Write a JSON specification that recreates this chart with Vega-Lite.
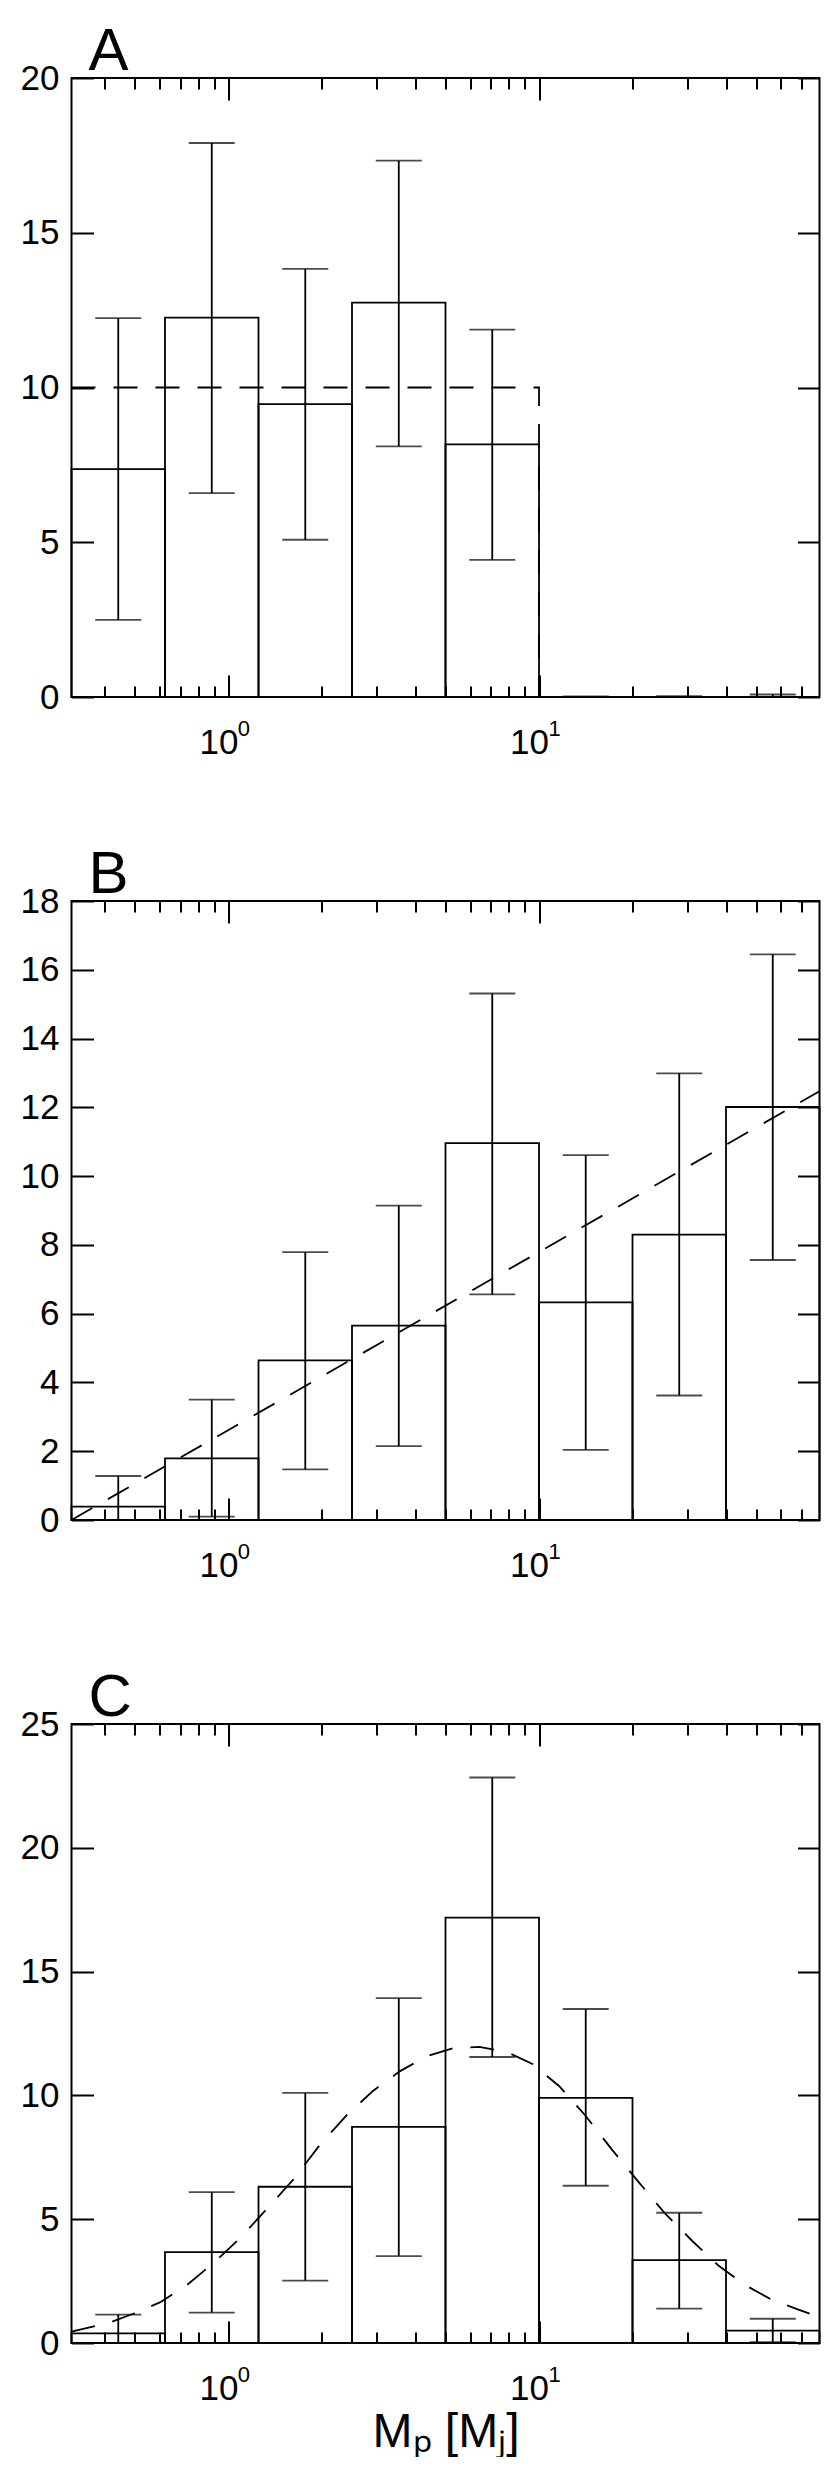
{
  "$schema": "https://vega.github.io/schema/vega-lite/v6.json",
  "background": "white",
  "padding": {"left": 18.5, "top": 20, "right": 5, "bottom": 0},
  "spacing": 82,
  "datasets": {
    "binsA": [
      {"lo": 0.3125, "hi": 0.625, "c": 0.442, "v": 7.36, "elo": 2.49, "ehi": 12.24},
      {"lo": 0.625, "hi": 1.25, "c": 0.884, "v": 12.26, "elo": 6.59, "ehi": 17.9},
      {"lo": 1.25, "hi": 2.5, "c": 1.768, "v": 9.46, "elo": 5.08, "ehi": 13.83},
      {"lo": 2.5, "hi": 5, "c": 3.536, "v": 12.74, "elo": 8.1, "ehi": 17.33},
      {"lo": 5, "hi": 10, "c": 7.071, "v": 8.16, "elo": 4.43, "ehi": 11.87},
      {"lo": 10, "hi": 20, "c": 14.14, "v": 0, "elo": 0, "ehi": 0.02},
      {"lo": 20, "hi": 40, "c": 28.28, "v": 0, "elo": 0, "ehi": 0.03},
      {"lo": 40, "hi": 80, "c": 56.57, "v": 0, "elo": 0, "ehi": 0.08}
    ],
    "binsB": [
      {"lo": 0.3125, "hi": 0.625, "c": 0.442, "v": 0.39, "elo": 0, "ehi": 1.28},
      {"lo": 0.625, "hi": 1.25, "c": 0.884, "v": 1.79, "elo": 0.1, "ehi": 3.5},
      {"lo": 1.25, "hi": 2.5, "c": 1.768, "v": 4.64, "elo": 1.47, "ehi": 7.79},
      {"lo": 2.5, "hi": 5, "c": 3.536, "v": 5.65, "elo": 2.15, "ehi": 9.14},
      {"lo": 5, "hi": 10, "c": 7.071, "v": 10.96, "elo": 6.56, "ehi": 15.31},
      {"lo": 10, "hi": 20, "c": 14.14, "v": 6.33, "elo": 2.04, "ehi": 10.61},
      {"lo": 20, "hi": 40, "c": 28.28, "v": 8.3, "elo": 3.62, "ehi": 12.99},
      {"lo": 40, "hi": 80, "c": 56.57, "v": 12.01, "elo": 7.56, "ehi": 16.45}
    ],
    "binsC": [
      {"lo": 0.3125, "hi": 0.625, "c": 0.442, "v": 0.39, "elo": 0, "ehi": 1.15},
      {"lo": 0.625, "hi": 1.25, "c": 0.884, "v": 3.67, "elo": 1.23, "ehi": 6.09},
      {"lo": 1.25, "hi": 2.5, "c": 1.768, "v": 6.31, "elo": 2.52, "ehi": 10.1},
      {"lo": 2.5, "hi": 5, "c": 3.536, "v": 8.73, "elo": 3.51, "ehi": 13.93},
      {"lo": 5, "hi": 10, "c": 7.071, "v": 17.18, "elo": 11.55, "ehi": 22.84},
      {"lo": 10, "hi": 20, "c": 14.14, "v": 9.9, "elo": 6.35, "ehi": 13.49},
      {"lo": 20, "hi": 40, "c": 28.28, "v": 3.35, "elo": 1.39, "ehi": 5.26},
      {"lo": 40, "hi": 80, "c": 56.57, "v": 0.5, "elo": 0.03, "ehi": 0.98}
    ],
    "modelA": [
      {"i": 0, "x": 0.3125, "y": 10},
      {"i": 1, "x": 10, "y": 10},
      {"i": 2, "x": 10, "y": 0},
      {"i": 3, "x": 80, "y": 0}
    ],
    "modelB": [
      {"i": 0, "x": 0.3125, "y": 0},
      {"i": 1, "x": 80, "y": 12.47}
    ],
    "modelC": [
      {"i": 0, "x": 0.3125, "y": 0.46},
      {"i": 1, "x": 0.407, "y": 0.79},
      {"i": 2, "x": 0.496, "y": 1.19},
      {"i": 3, "x": 0.604, "y": 1.65},
      {"i": 4, "x": 0.735, "y": 2.34},
      {"i": 5, "x": 0.895, "y": 3.23},
      {"i": 6, "x": 1.09, "y": 4.23},
      {"i": 7, "x": 1.33, "y": 5.42},
      {"i": 8, "x": 1.62, "y": 6.61},
      {"i": 9, "x": 1.97, "y": 8.0},
      {"i": 10, "x": 2.4, "y": 9.19},
      {"i": 11, "x": 2.92, "y": 10.18},
      {"i": 12, "x": 3.56, "y": 10.97},
      {"i": 13, "x": 4.33, "y": 11.57},
      {"i": 14, "x": 5.27, "y": 11.9},
      {"i": 15, "x": 6.42, "y": 11.96},
      {"i": 16, "x": 7.82, "y": 11.77},
      {"i": 17, "x": 9.53, "y": 11.27},
      {"i": 18, "x": 11.6, "y": 10.38},
      {"i": 19, "x": 14.1, "y": 9.19},
      {"i": 20, "x": 17.2, "y": 7.8},
      {"i": 21, "x": 20.9, "y": 6.51},
      {"i": 22, "x": 25.5, "y": 5.22},
      {"i": 23, "x": 31.1, "y": 4.13},
      {"i": 24, "x": 37.8, "y": 3.13},
      {"i": 25, "x": 46.1, "y": 2.34},
      {"i": 26, "x": 56.1, "y": 1.75},
      {"i": 27, "x": 68.4, "y": 1.35},
      {"i": 28, "x": 80, "y": 1.05}
    ]
  },
  "vconcat": [
    {
      "width": 748, "height": 619,
      "title": {"text": "A"},
      "resolve": {"axis": {"x": "independent", "y": "independent"}},
      "layer": [
        {
          "data": {"name": "binsA"},
          "mark": {"type": "rect", "filled": false, "stroke": "black", "strokeWidth": 1.8},
          "encoding": {
            "x": {"field": "lo", "type": "quantitative", "scale": {"type": "log", "domain": [0.3125, 80], "nice": false},
                  "axis": {"orient": "bottom", "values": [1, 10], "tickSize": -22, "labelPadding": 50, "labelExpr": "'10'", "labelOffset": -10, "title": null}},
            "x2": {"field": "hi"},
            "y": {"field": "v", "type": "quantitative", "scale": {"domain": [0, 20], "nice": false},
                  "axis": {"orient": "left", "values": [0, 5, 10, 15, 20], "tickSize": -22, "labelPadding": 34.5, "title": null}},
            "y2": {"datum": 0}
          }
        },
        {
          "data": {"name": "binsA"},
          "mark": {"type": "rule", "color": "black", "strokeWidth": 1.8},
          "encoding": {
            "x": {"field": "c", "type": "quantitative", "axis": {"orient": "bottom", "values": [0.4,0.5,0.6,0.7,0.8,0.9,2,3,4,5,6,7,8,9,20,30,40,50,60,70], "tickSize": -11, "labels": false, "title": null}},
            "y": {"field": "elo", "type": "quantitative", "axis": {"orient": "right", "values": [0, 5, 10, 15, 20], "tickSize": -22, "labels": false, "title": null}},
            "y2": {"field": "ehi"}
          }
        },
        {
          "data": {"name": "binsA"},
          "mark": {"type": "tick", "orient": "horizontal", "color": "black", "thickness": 1.8},
          "encoding": {
            "x": {"field": "c", "type": "quantitative", "axis": {"orient": "top", "values": [1, 10], "tickSize": -22, "labels": false, "title": null}},
            "y": {"field": "elo", "type": "quantitative", "axis": null},
            "size": {"value": 46}
          }
        },
        {
          "data": {"name": "binsA"},
          "mark": {"type": "tick", "orient": "horizontal", "color": "black", "thickness": 1.8},
          "encoding": {
            "x": {"field": "c", "type": "quantitative", "axis": {"orient": "top", "values": [0.4,0.5,0.6,0.7,0.8,0.9,2,3,4,5,6,7,8,9,20,30,40,50,60,70], "tickSize": -11, "labels": false, "title": null}},
            "y": {"field": "ehi", "type": "quantitative", "axis": null},
            "size": {"value": 46}
          }
        },
        {
          "data": {"name": "modelA"},
          "mark": {"type": "line", "color": "black", "strokeWidth": 1.8, "strokeDash": [24, 18]},
          "encoding": {
            "x": {"field": "x", "type": "quantitative", "axis": {"orient": "bottom", "values": [1, 10], "ticks": false, "labelExpr": "datum.value == 1 ? '0' : '1'", "labelFontSize": 22, "labelPadding": 21, "labelOffset": 15, "title": null}},
            "y": {"field": "y", "type": "quantitative", "axis": null},
            "order": {"field": "i"}
          }
        }
      ]
    },
    {
      "width": 748, "height": 619,
      "title": {"text": "B"},
      "resolve": {"axis": {"x": "independent", "y": "independent"}},
      "layer": [
        {
          "data": {"name": "binsB"},
          "mark": {"type": "rect", "filled": false, "stroke": "black", "strokeWidth": 1.8},
          "encoding": {
            "x": {"field": "lo", "type": "quantitative", "scale": {"type": "log", "domain": [0.3125, 80], "nice": false},
                  "axis": {"orient": "bottom", "values": [1, 10], "tickSize": -22, "labelPadding": 50, "labelExpr": "'10'", "labelOffset": -10, "title": null}},
            "x2": {"field": "hi"},
            "y": {"field": "v", "type": "quantitative", "scale": {"domain": [0, 18], "nice": false},
                  "axis": {"orient": "left", "values": [0, 2, 4, 6, 8, 10, 12, 14, 16, 18], "tickSize": -22, "labelPadding": 34.5, "title": null}},
            "y2": {"datum": 0}
          }
        },
        {
          "data": {"name": "binsB"},
          "mark": {"type": "rule", "color": "black", "strokeWidth": 1.8},
          "encoding": {
            "x": {"field": "c", "type": "quantitative", "axis": {"orient": "bottom", "values": [0.4,0.5,0.6,0.7,0.8,0.9,2,3,4,5,6,7,8,9,20,30,40,50,60,70], "tickSize": -11, "labels": false, "title": null}},
            "y": {"field": "elo", "type": "quantitative", "axis": {"orient": "right", "values": [0, 2, 4, 6, 8, 10, 12, 14, 16, 18], "tickSize": -22, "labels": false, "title": null}},
            "y2": {"field": "ehi"}
          }
        },
        {
          "data": {"name": "binsB"},
          "mark": {"type": "tick", "orient": "horizontal", "color": "black", "thickness": 1.8},
          "encoding": {
            "x": {"field": "c", "type": "quantitative", "axis": {"orient": "top", "values": [1, 10], "tickSize": -22, "labels": false, "title": null}},
            "y": {"field": "elo", "type": "quantitative", "axis": null},
            "size": {"value": 46}
          }
        },
        {
          "data": {"name": "binsB"},
          "mark": {"type": "tick", "orient": "horizontal", "color": "black", "thickness": 1.8},
          "encoding": {
            "x": {"field": "c", "type": "quantitative", "axis": {"orient": "top", "values": [0.4,0.5,0.6,0.7,0.8,0.9,2,3,4,5,6,7,8,9,20,30,40,50,60,70], "tickSize": -11, "labels": false, "title": null}},
            "y": {"field": "ehi", "type": "quantitative", "axis": null},
            "size": {"value": 46}
          }
        },
        {
          "data": {"name": "modelB"},
          "mark": {"type": "line", "color": "black", "strokeWidth": 1.8, "strokeDash": [24, 18]},
          "encoding": {
            "x": {"field": "x", "type": "quantitative", "axis": {"orient": "bottom", "values": [1, 10], "ticks": false, "labelExpr": "datum.value == 1 ? '0' : '1'", "labelFontSize": 22, "labelPadding": 21, "labelOffset": 15, "title": null}},
            "y": {"field": "y", "type": "quantitative", "axis": null},
            "order": {"field": "i"}
          }
        }
      ]
    },
    {
      "width": 748, "height": 619,
      "title": {"text": "C"},
      "resolve": {"axis": {"x": "independent", "y": "independent"}},
      "layer": [
        {
          "data": {"name": "binsC"},
          "mark": {"type": "rect", "filled": false, "stroke": "black", "strokeWidth": 1.8},
          "encoding": {
            "x": {"field": "lo", "type": "quantitative", "scale": {"type": "log", "domain": [0.3125, 80], "nice": false},
                  "axis": {"orient": "bottom", "values": [1, 10], "tickSize": -22, "labelPadding": 50, "labelExpr": "'10'", "labelOffset": -10,
                           "title": "Mₚ [Mⱼ]", "titleFontSize": 48, "titleFontWeight": "normal", "titlePadding": 2, "titleColor": "black"}},
            "x2": {"field": "hi"},
            "y": {"field": "v", "type": "quantitative", "scale": {"domain": [0, 25], "nice": false},
                  "axis": {"orient": "left", "values": [0, 5, 10, 15, 20, 25], "tickSize": -22, "labelPadding": 34.5, "title": null}},
            "y2": {"datum": 0}
          }
        },
        {
          "data": {"name": "binsC"},
          "mark": {"type": "rule", "color": "black", "strokeWidth": 1.8},
          "encoding": {
            "x": {"field": "c", "type": "quantitative", "axis": {"orient": "bottom", "values": [0.4,0.5,0.6,0.7,0.8,0.9,2,3,4,5,6,7,8,9,20,30,40,50,60,70], "tickSize": -11, "labels": false, "title": null}},
            "y": {"field": "elo", "type": "quantitative", "axis": {"orient": "right", "values": [0, 5, 10, 15, 20, 25], "tickSize": -22, "labels": false, "title": null}},
            "y2": {"field": "ehi"}
          }
        },
        {
          "data": {"name": "binsC"},
          "mark": {"type": "tick", "orient": "horizontal", "color": "black", "thickness": 1.8},
          "encoding": {
            "x": {"field": "c", "type": "quantitative", "axis": {"orient": "top", "values": [1, 10], "tickSize": -22, "labels": false, "title": null}},
            "y": {"field": "elo", "type": "quantitative", "axis": null},
            "size": {"value": 46}
          }
        },
        {
          "data": {"name": "binsC"},
          "mark": {"type": "tick", "orient": "horizontal", "color": "black", "thickness": 1.8},
          "encoding": {
            "x": {"field": "c", "type": "quantitative", "axis": {"orient": "top", "values": [0.4,0.5,0.6,0.7,0.8,0.9,2,3,4,5,6,7,8,9,20,30,40,50,60,70], "tickSize": -11, "labels": false, "title": null}},
            "y": {"field": "ehi", "type": "quantitative", "axis": null},
            "size": {"value": 46}
          }
        },
        {
          "data": {"name": "modelC"},
          "mark": {"type": "line", "color": "black", "strokeWidth": 1.8, "strokeDash": [24, 18]},
          "encoding": {
            "x": {"field": "x", "type": "quantitative", "axis": {"orient": "bottom", "values": [1, 10], "ticks": false, "labelExpr": "datum.value == 1 ? '0' : '1'", "labelFontSize": 22, "labelPadding": 21, "labelOffset": 15, "title": null}},
            "y": {"field": "y", "type": "quantitative", "axis": null},
            "order": {"field": "i"}
          }
        }
      ]
    }
  ],
  "config": {
    "font": "Liberation Sans",
    "view": {"stroke": "black", "strokeWidth": 2},
    "axis": {
      "domain": false, "grid": false,
      "labelFont": "Liberation Sans", "labelFontSize": 35, "labelColor": "black",
      "labelFlush": false, "labelOverlap": false, "labelBound": false,
      "tickColor": "black", "tickWidth": 2, "titleFont": "Liberation Sans"
    },
    "title": {
      "anchor": "start", "frame": "group", "fontSize": 60, "font": "Liberation Sans",
      "fontWeight": "normal", "color": "black", "baseline": "alphabetic", "offset": -21.5, "dx": 17
    }
  }
}
